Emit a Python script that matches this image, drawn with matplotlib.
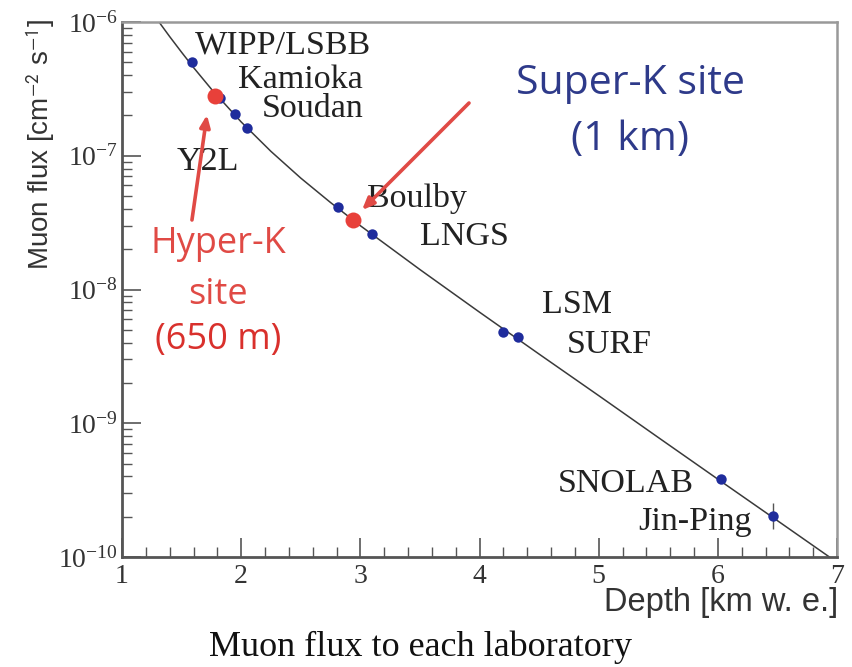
import numpy as np
import matplotlib
matplotlib.use("Agg")
import matplotlib.pyplot as plt
from matplotlib.ticker import LogLocator, MultipleLocator

plt.rcParams['font.family'] = ['Liberation Serif', 'DejaVu Serif']
plt.rcParams['mathtext.fontset'] = 'stix'

# Depth-intensity curve (km w.e. vs. cm^-2 s^-1)
curve_depth = [1.25, 1.3, 1.4, 1.5, 1.6, 1.75, 2.0, 2.25, 2.5, 2.75, 3.0,
               3.5, 4.0, 4.5, 5.0, 5.5, 6.0, 6.5, 7.0]
curve_flux = [1.19e-6, 1.03e-6, 7.78e-7, 5.94e-7, 4.57e-7, 3.15e-7, 1.79e-7,
              1.078e-7, 6.81e-8, 4.47e-8, 3.00e-8, 1.41e-8, 6.77e-9, 3.29e-9,
              1.61e-9, 7.83e-10, 3.82e-10, 1.87e-10, 9.13e-11]

# Underground laboratories
labs = ['WIPP/LSBB', 'Kamioka', 'Soudan', 'Y2L', 'Boulby', 'LNGS',
        'LSM', 'SURF', 'SNOLAB', 'Jin-Ping']
lab_depth = [1.59, 1.82, 1.95, 2.05, 2.81, 3.10, 4.20, 4.32, 6.03, 6.46]
lab_flux = [5.0e-7, 2.7e-7, 2.05e-7, 1.61e-7, 4.14e-8, 2.6e-8,
            4.8e-9, 4.4e-9, 3.83e-10, 2.03e-10]
jinping_err = [0.4e-10, 0.5e-10]

# Candidate sites
site_depth = [1.78, 2.94]
site_flux = [2.8e-7, 3.31e-8]

# Label anchors (data coordinates: left edge, baseline)
label_x = [1.613, 1.973, 2.175, 1.462, 3.056, 3.50, 4.524, 4.734, 4.659, 5.33]
label_y = [5.86e-7, 3.21e-7, 1.95e-7, 7.83e-8, 4.14e-8, 2.15e-8,
           6.67e-9, 3.35e-9, 3.06e-10, 1.59e-10]

fig = plt.figure(figsize=(8.52, 6.67), dpi=100)
ax = fig.add_axes([0.1432, 0.1649, 0.8392, 0.8021])

ax.plot(curve_depth, curve_flux, color='#3a3a3a', lw=1.1, zorder=2)
ax.errorbar(lab_depth[-1:], lab_flux[-1:], yerr=[[jinping_err[0]], [jinping_err[1]]],
            fmt='none', ecolor='#555555', elinewidth=1.0, zorder=3)
ax.plot(lab_depth, lab_flux, 'o', color='#1f2c9c', ms=7.5, mec='none', zorder=4)
ax.plot(site_depth, site_flux, 'o', color='#e8403a', ms=11.5, mec='none', zorder=5)

for name, x, y in zip(labs, label_x, label_y):
    ax.text(x, y, name, fontsize=24.5, color='#222222',
            ha='left', va='baseline', zorder=6)

ax.set_yscale('log')
ax.set_xlim(1, 7)
ax.set_ylim(1e-10, 1e-6)

ax.xaxis.set_major_locator(MultipleLocator(1))
ax.xaxis.set_minor_locator(MultipleLocator(0.2))
ax.yaxis.set_major_locator(LogLocator(base=10, numticks=10))
ax.yaxis.set_minor_locator(LogLocator(base=10, subs=np.arange(2, 10), numticks=20))

ax.tick_params(axis='both', which='major', direction='in', length=14, width=1.2,
               color='#555555', labelsize=20, labelcolor='#333333', pad=3)
ax.tick_params(axis='both', which='minor', direction='in', length=7, width=1.0,
               color='#555555')
ax.tick_params(axis='x', pad=5)
ax.tick_params(top=False, right=False, which='both')

for side in ['left', 'bottom']:
    ax.spines[side].set_color('#555555')
    ax.spines[side].set_linewidth(2.0)
for side in ['top', 'right']:
    ax.spines[side].set_color('#999999')
    ax.spines[side].set_linewidth(1.8)

# Arrows pointing at the candidate sites
arrow_kw = dict(arrowstyle='-|>,head_length=0.7,head_width=0.3', color='#e04a45', lw=2.6,
                shrinkA=0, shrinkB=0)
ax.annotate('', xy=(1.713, 2.02e-7), xytext=(1.587, 3.31e-8),
            arrowprops=arrow_kw, zorder=7)
ax.annotate('', xy=(3.014, 3.93e-8), xytext=(3.912, 2.48e-7),
            arrowprops=arrow_kw, zorder=7)

sans = ['Open Sans', 'DejaVu Sans']
fig.text(0.740, 0.874, 'Super-K site', family=sans, fontsize=29.5, color='#2e3a8a',
         ha='center', va='center')
fig.text(0.740, 0.791, '(1 km)', family=sans, fontsize=29.5, color='#2e3a8a',
         ha='center', va='center')
fig.text(0.256, 0.634, 'Hyper-K', family=sans, fontsize=26, color='#e04a45',
         ha='center', va='center')
fig.text(0.256, 0.558, 'site', family=sans, fontsize=26, color='#e04a45',
         ha='center', va='center')
fig.text(0.256, 0.490, '(650 m)', family=sans, fontsize=26, color='#d9302c',
         ha='center', va='center')

label_sans = ['Liberation Sans', 'DejaVu Sans']
fig.text(0.047, 0.972, r'Muon flux [cm$^{\mathsf{-2}}$ s$^{\mathsf{-1}}$]',
         family=label_sans, fontsize=20, color='#333333',
         rotation=90, ha='center', va='top')
fig.text(0.984, 0.097, 'Depth [km w. e.]', family=label_sans,
         fontsize=23.5, color='#333333', ha='right', va='center')
fig.text(0.494, 0.017, 'Muon flux to each laboratory', fontsize=26,
         color='#111111', ha='center', va='baseline')

fig.savefig('out.png', dpi=100)
